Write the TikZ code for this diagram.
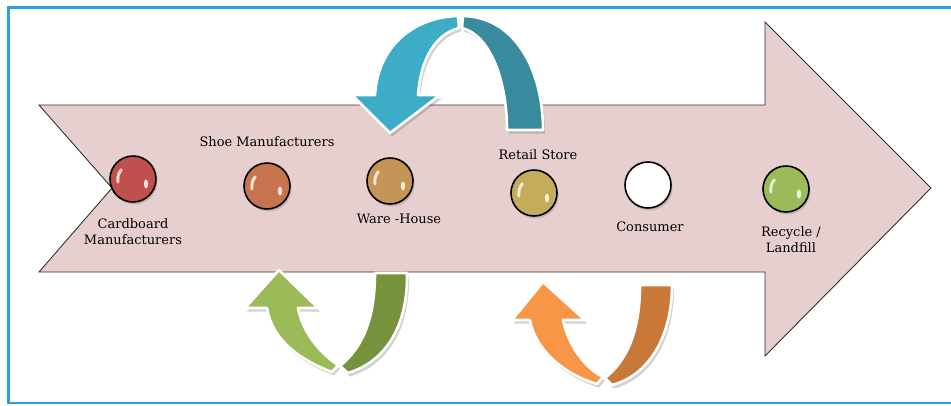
\documentclass[tikz,border=0pt]{standalone}
\usepackage{fontspec}
\setmainfont{DejaVu Serif}
\usetikzlibrary{positioning, shadows}

\definecolor{framecol}{HTML}{2B9FE0}
\definecolor{bodycol}{HTML}{E7CFCF}
\definecolor{tealL}{HTML}{3DADC7}
\definecolor{tealD}{HTML}{378B9C}
\definecolor{greenL}{HTML}{9BBB59}
\definecolor{greenD}{HTML}{76923C}
\definecolor{orangeL}{HTML}{F79646}
\definecolor{orangeD}{HTML}{C87837}
\definecolor{ballred}{HTML}{C0504D}
\definecolor{ballorange}{HTML}{C87350}
\definecolor{ballgold}{HTML}{C49556}
\definecolor{ballyellow}{HTML}{C3AC5A}

\begin{document}
\begin{tikzpicture}[x=1pt, y=-1pt,
        ball/.style={circle, draw=black, line width=1.6pt, minimum size=46pt, inner sep=0pt,
            drop shadow={shadow xshift=1.5pt, shadow yshift=-2.5pt, opacity=.35},
            path picture={
                \draw[white, opacity=.75, line width=3pt, line cap=round,
                      shift={(path picture bounding box.center)}]
                    (-15pt,-3pt) arc[start angle=190, end angle=140, radius=15pt];
                \fill[white, opacity=.8, shift={(path picture bounding box.center)}, rotate=-40]
                    (13pt,-5pt) ellipse (2.2pt and 4.5pt);
            }},
        stage/.style={font=\fontsize{13}{16}\selectfont, align=center, inner sep=0pt, text=black},
        piece/.style={draw=white, line width=2.6pt, line join=round,
            preaction={fill=black!60, fill opacity=.3, draw=none,
                transform canvas={shift={(2pt,-3.5pt)}}}},
    ]
        \useasboundingbox (0,0) rectangle (951,405);
        \clip (0,0) rectangle (951,405);

        % ====== frame ======
        \draw[framecol, line width=2.8pt] (960,7.3) -- (8.5,7.3) -- (8.5,403) -- (960,403);

        % ====== main arrow ======
        \filldraw[fill=bodycol, draw=black!80, line width=0.9pt, line join=miter]
            (39,105) -- (765,105) -- (765,22) -- (931,188) -- (765,356) -- (765,272)
            -- (39,272) -- (112,188) -- cycle;

        % ====== top loop (teal) ======
        \filldraw[piece, fill=tealD]
            (463,16) .. controls (515,17) and (543,70) .. (543,130)
            -- (507,130) .. controls (507,80) and (490,35) .. (462,28) -- cycle;
        \filldraw[piece, fill=tealL]
            (458,16) .. controls (415,17) and (378,45) .. (375,95)
            -- (352,95) -- (390,133) -- (440,95) -- (418,95)
            .. controls (420,65) and (432,35) .. (459,28) -- cycle;

        % ====== bottom loop (green) ======
        \filldraw[piece, fill=greenD]
            (407,273) .. controls (408,320) and (390,360) .. (348,373)
            -- (340,366) .. controls (362,348) and (375,320) .. (375,273) -- cycle;
        \filldraw[piece, fill=greenL]
            (332,372) .. controls (300,360) and (272,340) .. (267,308)
            -- (245,308) -- (279,270) -- (318,308) -- (298,308)
            .. controls (302,330) and (318,352) .. (338,365) -- cycle;

        % ====== bottom loop (orange) ======
        \filldraw[piece, fill=orangeD]
            (672,285) .. controls (672,335) and (650,375) .. (612,385)
            -- (605,378) .. controls (625,362) and (640,335) .. (640,285) -- cycle;
        \filldraw[piece, fill=orangeL]
            (597,384) .. controls (565,375) and (535,350) .. (530,320)
            -- (512,320) -- (543,282) -- (585,320) -- (563,320)
            .. controls (568,345) and (585,368) .. (603,377) -- cycle;

        % ====== stages ======
        \node[ball, fill=ballred]    (card)    at (133,179) {};
        \node[ball, fill=ballorange] (shoe)    at (267,186) {};
        \node[ball, fill=ballgold]   (ware)    at (390,181) {};
        \node[ball, fill=ballyellow] (retail)  at (534,193) {};
        \node[ball, fill=white, path picture={}] (consum) at (648,185) {};
        \node[ball, fill=greenL]     (recycle) at (786,189) {};

        % stage labels
        \node[stage, below=16pt of card]              (cardlbl)    {Cardboard\\Manufacturers};
        \node[stage, above=15pt of shoe]              (shoelbl)    {Shoe Manufacturers};
        \node[stage, below=9pt of ware, xshift=9pt]   (warelbl)    {Ware -House};
        \node[stage, above=9pt of retail, xshift=4pt] (retaillbl)  {Retail Store};
        \node[stage, below=13pt of consum, xshift=2pt](consumlbl)  {Consumer};
        \node[stage, below=14pt of recycle, xshift=5pt](recyclelbl){Recycle /\\Landfill};
    \end{tikzpicture}
\end{document}
